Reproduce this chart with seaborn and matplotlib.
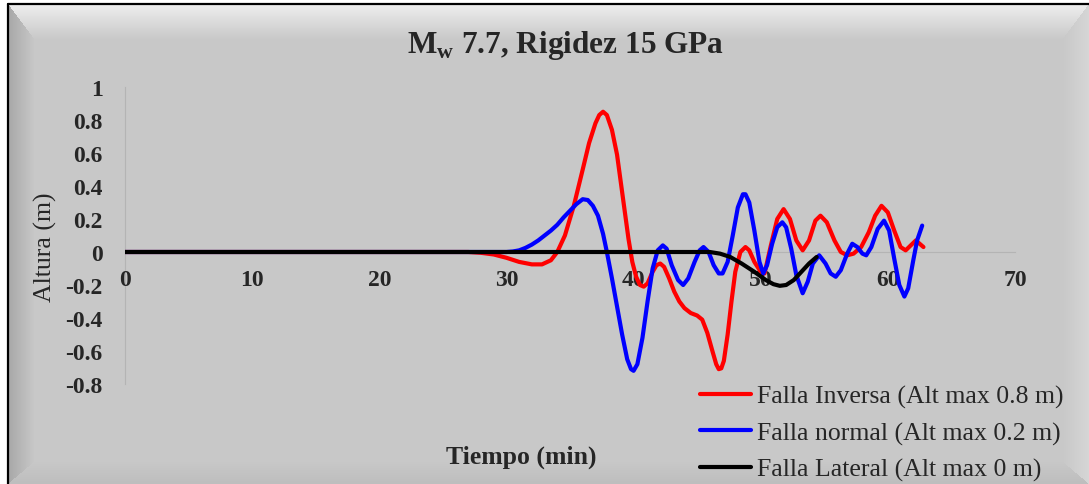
import numpy as np
import pandas as pd
import matplotlib
matplotlib.use("Agg")
import matplotlib.pyplot as plt
import seaborn as sns
from matplotlib.lines import Line2D

# Values (time in min, height in m)
t_inversa = [0, 10, 20, 27, 28, 29, 30, 31, 32, 32.8, 33.5, 34.0, 34.6, 35.3, 36.0, 36.5,
             37.0, 37.3, 37.6, 37.9, 38.3, 38.7, 39.0, 39.3, 39.6, 39.9, 40.2, 40.5, 40.8,
             41.1, 41.5, 41.8, 42.1, 42.4, 42.8, 43.2, 43.6, 44.0, 44.5, 45.0, 45.4, 45.8,
             46.2, 46.5, 46.7, 46.9, 47.1, 47.4, 47.7, 48.0, 48.4, 48.8, 49.1, 49.5, 50.0,
             50.3, 50.8, 51.3, 51.8, 52.3, 52.8, 53.3, 53.8, 54.3, 54.7, 55.2, 55.8, 56.3,
             56.8, 57.3, 57.9, 58.5, 59.0, 59.5, 60.0, 60.5, 61.0, 61.4, 61.8, 62.2, 62.8]
h_inversa = [0, 0, 0, 0, -0.005, -0.015, -0.035, -0.06, -0.075, -0.075, -0.05, 0.0, 0.10,
             0.28, 0.50, 0.66, 0.78, 0.83, 0.85, 0.83, 0.74, 0.59, 0.42, 0.25, 0.08, -0.06,
             -0.15, -0.20, -0.21, -0.19, -0.12, -0.08, -0.07, -0.09, -0.16, -0.24, -0.30,
             -0.34, -0.37, -0.385, -0.41, -0.49, -0.60, -0.68, -0.71, -0.705, -0.66, -0.50,
             -0.30, -0.12, 0.0, 0.03, 0.01, -0.06, -0.12, -0.13, 0.04, 0.20, 0.26, 0.20, 0.07,
             0.01, 0.07, 0.19, 0.22, 0.18, 0.07, 0.0, -0.02, -0.01, 0.03, 0.12, 0.22, 0.28,
             0.24, 0.13, 0.03, 0.01, 0.04, 0.07, 0.03]

t_normal = [0, 10, 20, 30, 30.5, 31, 31.5, 32, 32.5, 33, 33.5, 34, 34.5, 35, 35.5, 36.0,
            36.4, 36.8, 37.2, 37.6, 37.9, 38.3, 38.7, 39.1, 39.5, 39.8, 40.0, 40.3, 40.7,
            41.1, 41.5, 41.9, 42.3, 42.6, 43.0, 43.5, 43.9, 44.3, 44.8, 45.2, 45.5, 45.9,
            46.3, 46.7, 47.0, 47.4, 47.8, 48.2, 48.6, 48.8, 49.1, 49.5, 49.9, 50.2, 50.5,
            50.9, 51.3, 51.7, 52.0, 52.4, 52.8, 53.3, 53.7, 54.1, 54.6, 55.1, 55.5, 55.9,
            56.3, 56.8, 57.2, 57.6, 58.0, 58.3, 58.7, 59.2, 59.7, 60.1, 60.5, 60.9, 61.3,
            61.6, 62.0, 62.3, 62.7]
h_normal = [0, 0, 0, 0, 0.003, 0.01, 0.025, 0.045, 0.07, 0.10, 0.13, 0.165, 0.21, 0.25,
            0.29, 0.32, 0.315, 0.28, 0.22, 0.11, 0.0, -0.16, -0.33, -0.50, -0.65, -0.71,
            -0.72, -0.68, -0.52, -0.30, -0.10, 0.01, 0.04, 0.02, -0.08, -0.17, -0.20, -0.16,
            -0.06, 0.01, 0.03, 0.0, -0.08, -0.13, -0.13, -0.06, 0.10, 0.27, 0.35, 0.35, 0.30,
            0.13, -0.06, -0.13, -0.08, 0.05, 0.15, 0.18, 0.15, 0.02, -0.14, -0.25, -0.18,
            -0.07, -0.02, -0.07, -0.13, -0.15, -0.11, -0.01, 0.05, 0.03, -0.01, -0.02, 0.03,
            0.14, 0.19, 0.13, -0.04, -0.20, -0.27, -0.22, -0.05, 0.07, 0.16]

t_lateral = [0, 10, 20, 30, 40, 46, 46.8, 47.6, 48.5, 49.5, 50.4, 51.0, 51.5, 52.0, 52.6,
             53.2, 53.8, 54.4]
h_lateral = [0, 0, 0, 0, 0, 0, -0.01, -0.03, -0.07, -0.12, -0.17, -0.195, -0.205, -0.20,
             -0.17, -0.12, -0.07, -0.03]

series_labels = ["Falla Inversa (Alt max 0.8 m)", "Falla normal (Alt max 0.2 m)",
                 "Falla Lateral (Alt max 0 m)"]
series_colors = ["#FF0000", "#0000FF", "#000000"]

x_ticks = [0, 10, 20, 30, 40, 50, 60, 70]
y_ticks = [-0.8, -0.6, -0.4, -0.2, 0, 0.2, 0.4, 0.6, 0.8, 1]

sns.set_theme(style="white")
plt.rcParams['font.family'] = ['Liberation Serif', 'DejaVu Serif']
plt.rcParams['mathtext.fontset'] = 'custom'
plt.rcParams['mathtext.rm'] = 'Liberation Serif'
plt.rcParams['mathtext.bf'] = 'Liberation Serif:bold'

W, H = 1089, 485
fig = plt.figure(figsize=(W / 100, H / 100), dpi=100)

# Bevelled grey chart background
yy, xx = np.mgrid[0:H, 0:W]
base = 200 / 255
img = np.full((H, W), base)
edges = [(yy - 5, 35, 238 / 255), (xx - 8, 26, 168 / 255),
         (W - 1 - xx, 26, 214 / 255), (H - 1 - yy, 22, 190 / 255)]
ratios = np.stack([np.clip(d, 0, None) / w for d, w, _ in edges])
nearest = ratios.argmin(axis=0)
rmin = ratios.min(axis=0)
for i, (_, _, col) in enumerate(edges):
    m = (nearest == i) & (rmin < 1)
    img[m] = col + (base - col) * rmin[m]
img[:5, :] = 1.0
img[:, :8] = 1.0
bg = fig.add_axes([0, 0, 1, 1])
bg.imshow(np.dstack([img] * 3), aspect='auto', interpolation='nearest')
bg.axis('off')
fig.add_artist(Line2D([8 / W, 1], [1 - 5 / H, 1 - 5 / H], color='black', lw=1.6))
fig.add_artist(Line2D([8 / W, 8 / W], [0, 1 - 5 / H], color='black', lw=1.6))

ax = fig.add_axes([125 / W, 1 - 385 / H, 890 / W, 297 / H])
ax.set_facecolor('none')

for t, h, lab, col in zip([t_inversa, t_normal, t_lateral],
                          [h_inversa, h_normal, h_lateral], series_labels, series_colors):
    df = pd.DataFrame({'Tiempo': t, 'Altura': h})
    sns.lineplot(data=df, x='Tiempo', y='Altura', color=col, linewidth=3.0, label=lab,
                 solid_joinstyle='round', ax=ax)

# spine position first: it resets the tick settings
for s in ['top', 'right']:
    ax.spines[s].set_visible(False)
ax.spines['bottom'].set_position(('data', 0))
for s in ['left', 'bottom']:
    ax.spines[s].set_color('#b4b4b4')
    ax.spines[s].set_linewidth(0.8)
    ax.spines[s].set_zorder(0)

ax.set_xlim(0, 70)
ax.set_ylim(-0.8, 1)
ax.set_xticks(x_ticks)
ax.set_xticklabels([str(v) for v in x_ticks], fontsize=17, fontweight='bold')
ax.set_yticks(y_ticks)
ax.set_yticklabels([f"{v:g}" for v in y_ticks], fontsize=17, fontweight='bold')
ax.set_xlabel('')
ax.set_ylabel('')
ax.tick_params(axis='x', length=0, pad=12)
ax.tick_params(axis='y', length=0, pad=16)

fig.text(566 / W, 1 - 45 / H, r"M$_\mathbf{w}$ 7.7, Rigidez 15 GPa", fontsize=22.5,
         fontweight='bold', ha='center', va='center')
fig.text(521 / W, 1 - 457 / H, "Tiempo (min)", fontsize=18.5, fontweight='bold',
         ha='center', va='center')
fig.text(45 / W, 1 - 247 / H, "Altura (m)", fontsize=18.5, rotation=90,
         ha='center', va='center')

ax.legend(loc='upper left', bbox_to_anchor=(700 / W, 1 - 386 / H),
          bbox_transform=fig.transFigure, frameon=False, fontsize=18.5,
          handlelength=2.0, handletextpad=0.23, labelspacing=0.5,
          borderpad=0, borderaxespad=0)

fig.savefig("out.png", dpi=100)
